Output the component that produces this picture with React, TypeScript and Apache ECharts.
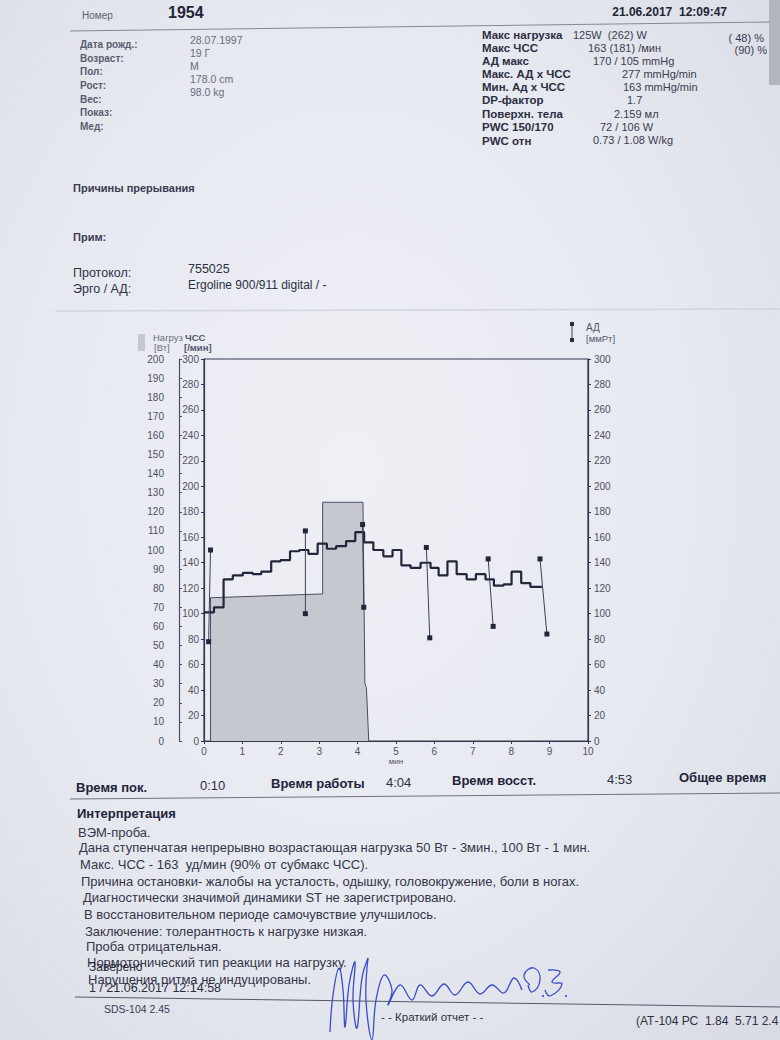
import React, { useEffect, useRef } from "react";
import * as echarts from "echarts";

// ---- chart data ----
const hrTimes = [0, 0.26, 0.51, 0.75, 1.01, 1.27, 1.49, 1.75, 1.99, 2.24, 2.48, 2.72, 2.96, 3.2, 3.44, 3.7, 3.94,
  4.17, 4.41, 4.67, 4.91, 5.14, 5.38, 5.64, 5.9, 6.11, 6.34, 6.58, 6.84, 7.08, 7.33, 7.55, 7.8, 8.01, 8.26, 8.5];
const hrValues = [101, 105, 127, 130, 132, 131, 133, 141, 142, 149, 150, 147, 155, 151, 153, 157, 164,
  156, 150, 145, 150, 138, 136, 140, 136, 130, 141, 131, 127, 131, 127, 122, 123, 133, 124, 121];
const hrEndTime = 8.8;

const loadTimes = [0.17, 0.17, 3.09, 3.09, 4.14, 4.19, 4.23, 4.29];
const loadWatts = [0, 75, 77, 125, 125, 30, 28, 0];

const bpSysTimes = [0.17, 2.64, 4.13, 5.79, 7.4, 8.75];
const bpSys = [150, 165, 170, 152, 143, 143];
const bpDiaTimes = [0.12, 2.64, 4.16, 5.88, 7.53, 8.93];
const bpDia = [78, 100, 105, 81, 90, 84];

// ---- page texts ----
const leftInfoLabels = ["Дата рожд.:", "Возраст:", "Пол:", "Рост:", "Вес:", "Показ:", "Мед:"];
const leftInfoValues = ["28.07.1997", "19 Г", "M", "178.0 cm", "98.0 kg"];
const rightInfoLabels = ["Макс нагрузка", "Макс ЧСС", "АД макс", "Макс. АД х ЧСС", "Мин. Ад х ЧСС", "DP-фактор", "Поверхн. тела", "PWC 150/170", "PWC отн"];
const rightInfoValues = ["125W  (262) W", "163 (181) /мин", "170 / 105 mmHg", "277 mmHg/min", "163 mmHg/min", "1.7", "2.159 мл", "72 / 106 W", "0.73 / 1.08 W/kg"];
const summaryLabels = ["Время пок.", "Время работы", "Время восст.", "Общее время"];
const summaryValues = ["0:10", "4:04", "4:53"];
const interpretation = [
  "ВЭМ-проба.",
  "Дана ступенчатая непрерывно возрастающая нагрузка 50 Вт - 3мин., 100 Вт - 1 мин.",
  "Макс. ЧСС - 163  уд/мин (90% от субмакс ЧСС).",
  "Причина остановки- жалобы на усталость, одышку, головокружение, боли в ногах.",
  "Диагностически значимой динамики ST не зарегистрировано.",
  "В восстановительном периоде самочувствие улучшилось.",
  "Заключение: толерантность к нагрузке низкая.",
  "Проба отрицательная.",
  "Нормотонический тип реакции на нагрузку.",
  "Нарушения ритма не индуцированы.",
];

const FONT = "'Liberation Sans', Arial, sans-serif";
const INK = "#2a2d42";

function txt(x: number, y: number, text: string, o: any = {}) {
  return {
    type: "text",
    x,
    y,
    silent: true,
    z: 10,
    style: {
      text,
      fill: o.fill || "#45475a",
      fontSize: o.size || 11,
      fontWeight: o.bold ? "bold" : "normal",
      fontFamily: FONT,
      align: o.align || "left",
      verticalAlign: "middle",
    },
  };
}
function ln(x1: number, y1: number, x2: number, y2: number, stroke = "#7e8190", w = 1) {
  return { type: "line", silent: true, z: 5, shape: { x1, y1, x2, y2 }, style: { stroke, lineWidth: w } };
}

export default function App() {
  const ref = useRef<HTMLDivElement>(null);
  useEffect(() => {
    const chart = echarts.init(ref.current!, null, { renderer: "svg", width: 780, height: 1040 });

    const graphics: any[] = [];
    // top-right background strip (edge of the sheet)
    graphics.push({ type: "rect", silent: true, z: 1, shape: { x: 769, y: 0, width: 11, height: 85 }, style: { fill: "#b4b6be" } });
    // header
    graphics.push(txt(82, 15, "Номер", { size: 10, fill: "#5e6070" }));
    graphics.push(txt(168, 12, "1954", { size: 16, bold: true, fill: "#23253a" }));
    graphics.push(txt(727, 12, "21.06.2017  12:09:47", { size: 12, bold: true, fill: "#23253a", align: "right" }));
    graphics.push(ln(70, 31, 770, 22, "#858896", 1));

    const leftYs = [44, 58, 71, 85, 99, 112, 126];
    leftInfoLabels.forEach((s, i) => graphics.push(txt(80, leftYs[i], s, { size: 10, bold: true, fill: "#5a5c6e" })));
    const leftValYs = [40, 53, 66, 79, 92];
    leftInfoValues.forEach((s, i) => graphics.push(txt(190, leftValYs[i], s, { size: 10.5, fill: "#6a6c7c" })));

    const rightYs = [35, 48, 61, 74, 87, 100, 114, 127, 141];
    rightInfoLabels.forEach((s, i) => graphics.push(txt(482, rightYs[i], s, { size: 11.5, bold: true, fill: "#2c2e42" })));
    const rightValXs = [573, 588, 593, 622, 623, 627, 614, 600, 593];
    const rightValYs = [35, 48, 61, 74, 87, 100, 114, 127, 140];
    rightInfoValues.forEach((s, i) => graphics.push(txt(rightValXs[i], rightValYs[i], s, { size: 11, fill: "#3a3c50" })));
    graphics.push(txt(764, 38, "( 48) %", { size: 11, fill: "#3a3c50", align: "right" }));
    graphics.push(txt(767, 50, "(90) %", { size: 11, fill: "#3a3c50", align: "right" }));

    graphics.push(txt(73, 188, "Причины прерывания", { size: 11, bold: true, fill: "#3a3c50" }));
    graphics.push(txt(73, 237, "Прим:", { size: 11, bold: true, fill: "#3a3c50" }));
    graphics.push(txt(73, 273, "Протокол:", { size: 12.5, fill: "#2e3044" }));
    graphics.push(txt(188, 269, "755025", { size: 12.5, fill: "#2e3044" }));
    graphics.push(txt(73, 289, "Эрго / АД:", { size: 12.5, fill: "#2e3044" }));
    graphics.push(txt(188, 285, "Ergoline 900/911 digital / -", { size: 12, fill: "#2e3044" }));
    graphics.push(ln(55, 311, 780, 309, "#d2d5de", 1.5));

    // chart legends
    graphics.push({ type: "rect", silent: true, z: 5, shape: { x: 138, y: 334, width: 7, height: 17 }, style: { fill: "#c6c8cf" } });
    graphics.push(txt(153, 337, "Нагруз", { size: 9.5, fill: "#6a6c7c" }));
    graphics.push(txt(185, 337, "ЧСС", { size: 9.5, bold: true, fill: "#55576a" }));
    graphics.push(txt(154, 347, "[Вт]", { size: 9.5, fill: "#6a6c7c" }));
    graphics.push(txt(184, 347, "[/мин]", { size: 9.5, bold: true, fill: "#55576a" }));
    graphics.push(ln(572, 324, 572, 340, "#3c4058", 1));
    graphics.push({ type: "rect", silent: true, z: 6, shape: { x: 570, y: 322, width: 4, height: 4 }, style: { fill: INK } });
    graphics.push({ type: "rect", silent: true, z: 6, shape: { x: 570, y: 338, width: 4, height: 4 }, style: { fill: INK } });
    graphics.push(txt(586, 327, "АД", { size: 10, fill: "#55576a" }));
    graphics.push(txt(586, 338, "[ммРт]", { size: 9.5, fill: "#55576a" }));

    // summary row
    const sumLabelXs = [76, 271, 452, 679];
    const sumLabelYs = [787, 783, 780, 777];
    summaryLabels.forEach((s, i) => graphics.push(txt(sumLabelXs[i], sumLabelYs[i], s, { size: 13, bold: true, fill: "#22243a" })));
    const sumValXs = [200, 386, 607];
    const sumValYs = [785, 782, 779];
    summaryValues.forEach((s, i) => graphics.push(txt(sumValXs[i], sumValYs[i], s, { size: 13, fill: "#2e3044" })));
    graphics.push(ln(70, 799, 780, 793, "#6e7180", 1));

    graphics.push(txt(77, 813, "Интерпретация", { size: 13, bold: true, fill: "#22243a" }));
    const intXs = [78, 79, 80, 81, 83, 84, 85, 86, 87, 88];
    const intYs = [832, 847, 864, 881, 897, 914, 931, 946, 962, 979];
    interpretation.forEach((s, i) => graphics.push(txt(intXs[i], intYs[i], s, { size: 13, fill: "#34364a" })));
    graphics.push(txt(89, 967, "Заверено", { size: 12, fill: "#2a2c40" }));
    graphics.push(txt(89, 988, "1 / 21.06.2017 12:14:58", { size: 12.5, fill: "#2a2c40" }));
    graphics.push(ln(75, 997, 780, 1007, "#55586a", 1));
    graphics.push(txt(104, 1009, "SDS-104 2.45", { size: 10.5, fill: "#3a3c50" }));
    graphics.push(txt(381, 1017, "- - Краткий отчет - -", { size: 11.5, fill: "#2e3044" }));
    graphics.push(txt(636, 1021, "(АТ-104 РС  1.84  5.71 2.4", { size: 12, fill: "#2e3044" }));

    // handwritten signature (decorative strokes)
    const sig = { stroke: "#3a4cc8", lineWidth: 1.3, fill: null };
    graphics.push({ type: "polyline", silent: true, z: 11, shape: { smooth: 0.4, points: [[330, 1032], [333, 995], [339, 968], [343, 990], [345, 1027], [349, 985], [355, 962], [353, 1000], [357, 1028], [362, 978], [368, 958]] }, style: sig });
    graphics.push({ type: "polyline", silent: true, z: 11, shape: { smooth: 0.4, points: [[368, 958], [366, 1000], [372, 1040], [376, 1000], [384, 975], [392, 990], [388, 1005], [400, 985], [412, 1000], [420, 985], [432, 996], [444, 984], [455, 995], [468, 982], [480, 994], [492, 985], [504, 993], [514, 978], [522, 990]] }, style: sig });
    graphics.push({ type: "polyline", silent: true, z: 11, shape: { smooth: 0.5, points: [[530, 985], [524, 975], [534, 968], [540, 980], [532, 992], [528, 985]] }, style: sig });
    graphics.push({ type: "polyline", silent: true, z: 11, shape: { smooth: 0.5, points: [[548, 970], [560, 972], [552, 982], [562, 984], [550, 996], [545, 990]] }, style: sig });
    graphics.push({ type: "circle", silent: true, z: 11, shape: { cx: 543, cy: 996, r: 1 }, style: { fill: "#3a4cc8" } });
    graphics.push({ type: "circle", silent: true, z: 11, shape: { cx: 566, cy: 996, r: 1 }, style: { fill: "#3a4cc8" } });

    const hrData = hrTimes.map((t, i) => [t, hrValues[i]]);
    hrData.push([hrEndTime, hrValues[hrValues.length - 1]]);
    const loadData = loadTimes.map((t, i) => [t, loadWatts[i]]);

    const axisLabel = { color: "#4e5160", fontSize: 10, fontFamily: FONT };
    const axisLine = { show: true, lineStyle: { color: "#34384f", width: 1.2 } };

    const bpSeries = bpSys.map((s, i) => ({
      type: "line",
      yAxisIndex: 2,
      data: [[bpSysTimes[i], s], [bpDiaTimes[i], bpDia[i]]],
      symbol: "rect",
      symbolSize: 5,
      showSymbol: true,
      lineStyle: { width: 1, color: "#3c4058" },
      itemStyle: { color: "#23263a" },
      z: 4,
      silent: true,
    }));

    chart.setOption({
      animation: false,
      grid: { left: 204, right: 192, top: 359, bottom: 299, show: true, borderColor: "#34384f", borderWidth: 1.2, backgroundColor: "transparent" },
      xAxis: {
        type: "value",
        min: 0,
        max: 10,
        interval: 1,
        axisLine,
        axisTick: { show: true, length: 3, lineStyle: { color: "#34384f" } },
        axisLabel: { ...axisLabel, margin: 5 },
        splitLine: { show: false },
        name: "мин",
        nameLocation: "middle",
        nameGap: 16,
        nameTextStyle: { color: "#4e5160", fontSize: 8, fontFamily: FONT },
      },
      yAxis: [
        {
          type: "value", min: 0, max: 300, interval: 20, position: "left",
          axisLine, axisTick: { show: true, length: 3, lineStyle: { color: "#34384f" } },
          axisLabel: { ...axisLabel, margin: 5 }, splitLine: { show: false },
        },
        {
          type: "value", min: 0, max: 200, interval: 10, position: "left", offset: 25,
          axisLine: { show: true, lineStyle: { color: "#4a4e66", width: 1.2 } },
          axisTick: { show: true, inside: true, length: 3, lineStyle: { color: "#4a4e66" } },
          axisLabel: { ...axisLabel, margin: 15 }, splitLine: { show: false },
        },
        {
          type: "value", min: 0, max: 300, interval: 20, position: "right",
          axisLine, axisTick: { show: true, length: 3, lineStyle: { color: "#34384f" } },
          axisLabel: { ...axisLabel, margin: 6 }, splitLine: { show: false },
        },
      ],
      graphic: graphics,
      series: [
        {
          type: "line",
          yAxisIndex: 1,
          data: loadData,
          symbol: "none",
          lineStyle: { width: 1, color: "#4a4d63" },
          areaStyle: { color: "#c6c8cf", opacity: 1 },
          z: 2,
          silent: true,
        },
        {
          type: "line",
          yAxisIndex: 0,
          data: hrData,
          step: "end",
          symbol: "none",
          lineStyle: { width: 2.2, color: "#23263a" },
          z: 3,
          silent: true,
        },
        ...bpSeries,
      ],
    });
    return () => chart.dispose();
  }, []);
  return (
    <div
      ref={ref}
      style={{
        position: "absolute",
        left: 0,
        top: 0,
        width: 780,
        height: 1040,
        background: "radial-gradient(ellipse at 45% 45%, #eef0f6 0%, #e7e9f0 55%, #d8dbe4 100%)",
      }}
    />
  );
}
